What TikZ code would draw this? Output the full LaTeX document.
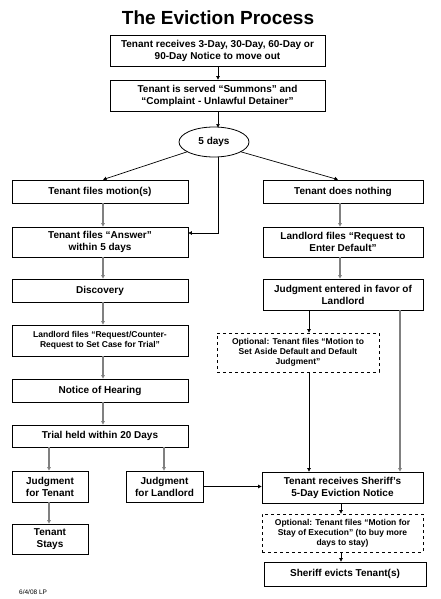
\documentclass[tikz,border=0pt]{standalone}
\usepackage{fontspec}
\setmainfont{Liberation Sans}
\usetikzlibrary{arrows.meta,shapes.geometric,calc}
\begin{document}
\begin{tikzpicture}[x=1pt,y=-1pt,
  box/.style={draw,thick,rectangle,align=center,inner sep=1pt,font=\bfseries\fontsize{10}{12}\selectfont},
  smallbox/.style={box,font=\bfseries\fontsize{8.5}{9.8}\selectfont},
  dbox/.style={smallbox,dashed},
  tip/.style={-{Triangle[length=3.5pt,width=3.5pt]}},
  gline/.style={tip,draw=black!50,line width=1.1pt},
  bline/.style={tip,draw=black,line width=0.7pt}]
\useasboundingbox (0,0) rectangle (440,599);
\node[font=\bfseries\fontsize{19}{22}\selectfont] (title) at (218,18) {The Eviction Process};
\node[box,minimum width=215,minimum height=31] (b1) at (217.5,50.5) {Tenant receives 3-Day, 30-Day, 60-Day or\\90-Day Notice to move out};
\node[box,minimum width=215,minimum height=31] (b2) at (217.5,95.5) {Tenant is served “Summons” and\\“Complaint - Unlawful Detainer”};
\node[box,ellipse,minimum width=70,minimum height=30,inner sep=0pt] (ell) at (214,142) {5 days};
\node[box,minimum width=176,minimum height=23] (motion) at (100,191.5) {Tenant files motion(s)};
\node[box,minimum width=160,minimum height=23] (nothing) at (343,191.5) {Tenant does nothing};
\node[box,minimum width=176,minimum height=30] (answer) at (100,242) {Tenant files “Answer”\\within 5 days};
\node[box,minimum width=160,minimum height=30] (reqdef) at (343,242) {Landlord files “Request to\\Enter Default”};
\node[box,minimum width=176,minimum height=23] (disc) at (100,290.5) {Discovery};
\node[box,minimum width=160,minimum height=31] (judfav) at (343,294.5) {Judgment entered in favor of\\Landlord};
\node[smallbox,minimum width=176,minimum height=31] (reqtrial) at (100,340.5) {Landlord files “Request/Counter-\\Request to Set Case for Trial”};
\node[dbox,minimum width=162,minimum height=39] (optset) at (298,352.5) {Optional: Tenant files “Motion to\\Set Aside Default and Default\\Judgment”};
\node[box,minimum width=176,minimum height=23] (hearing) at (100,390.5) {Notice of Hearing};
\node[box,minimum width=176,minimum height=22] (trial) at (100,436) {Trial held within 20 Days};
\node[box,minimum width=76,minimum height=31] (jt) at (50,486.5) {Judgment\\for Tenant};
\node[box,minimum width=77,minimum height=31] (jl) at (164.5,486.5) {Judgment\\for Landlord};
\node[box,minimum width=76,minimum height=30] (stays) at (50,539) {Tenant\\Stays};
\node[box,minimum width=161,minimum height=31] (notice) at (342.5,487.5) {Tenant receives Sheriff’s\\5-Day Eviction Notice};
\node[dbox,minimum width=161,minimum height=38] (optstay) at (342.5,533) {Optional: Tenant files “Motion for\\Stay of Execution” (to buy more\\days to stay)};
\node[box,minimum width=162,minimum height=24] (evicts) at (345,574) {Sheriff evicts Tenant(s)};
\node[font=\fontsize{6.5}{7}\selectfont,anchor=west,inner sep=0pt] (foot) at (19,592) {6/4/08 LP};
% connectors
\draw[bline] (218,0 |- b1.south) -- (218,0 |- b2.north);
\draw[bline] (218,0 |- b2.south) -- (218,127.5);
\draw[bline] (ell.200) -- (103,0 |- motion.north);
\draw[bline] (ell.-20) -- (338,0 |- nothing.north);
\draw[bline] (218,157) -- (218,233) -- (answer.east |- 0,233);
\draw[gline] (103,0 |- motion.south) -- (103,0 |- answer.north);
\draw[gline] (103,0 |- answer.south) -- (103,0 |- disc.north);
\draw[gline] (103,0 |- disc.south) -- (103,0 |- reqtrial.north);
\draw[gline] (103,0 |- reqtrial.south) -- (103,0 |- hearing.north);
\draw[gline] (103,0 |- hearing.south) -- (103,0 |- trial.north);
\draw[gline] (49,0 |- trial.south) -- (49,0 |- jt.north);
\draw[gline] (164,0 |- trial.south) -- (164,0 |- jl.north);
\draw[gline] (49,0 |- jt.south) -- (49,0 |- stays.north);
\draw[bline] (jl.east) -- (notice.west |- jl.east);
\draw[gline] (340,0 |- nothing.south) -- (340,0 |- reqdef.north);
\draw[gline] (340,0 |- reqdef.south) -- (340,0 |- judfav.north);
\draw[bline] (309,0 |- judfav.south) -- (309,0 |- optset.north);
\draw[bline] (309,0 |- optset.south) -- (309,0 |- notice.north);
\draw[gline] (400,0 |- judfav.south) -- (400,0 |- notice.north);
\draw[bline] (341,0 |- notice.south) -- (341,0 |- optstay.north);
\draw[bline] (341,0 |- optstay.south) -- (341,0 |- evicts.north);
\end{tikzpicture}
\end{document}
